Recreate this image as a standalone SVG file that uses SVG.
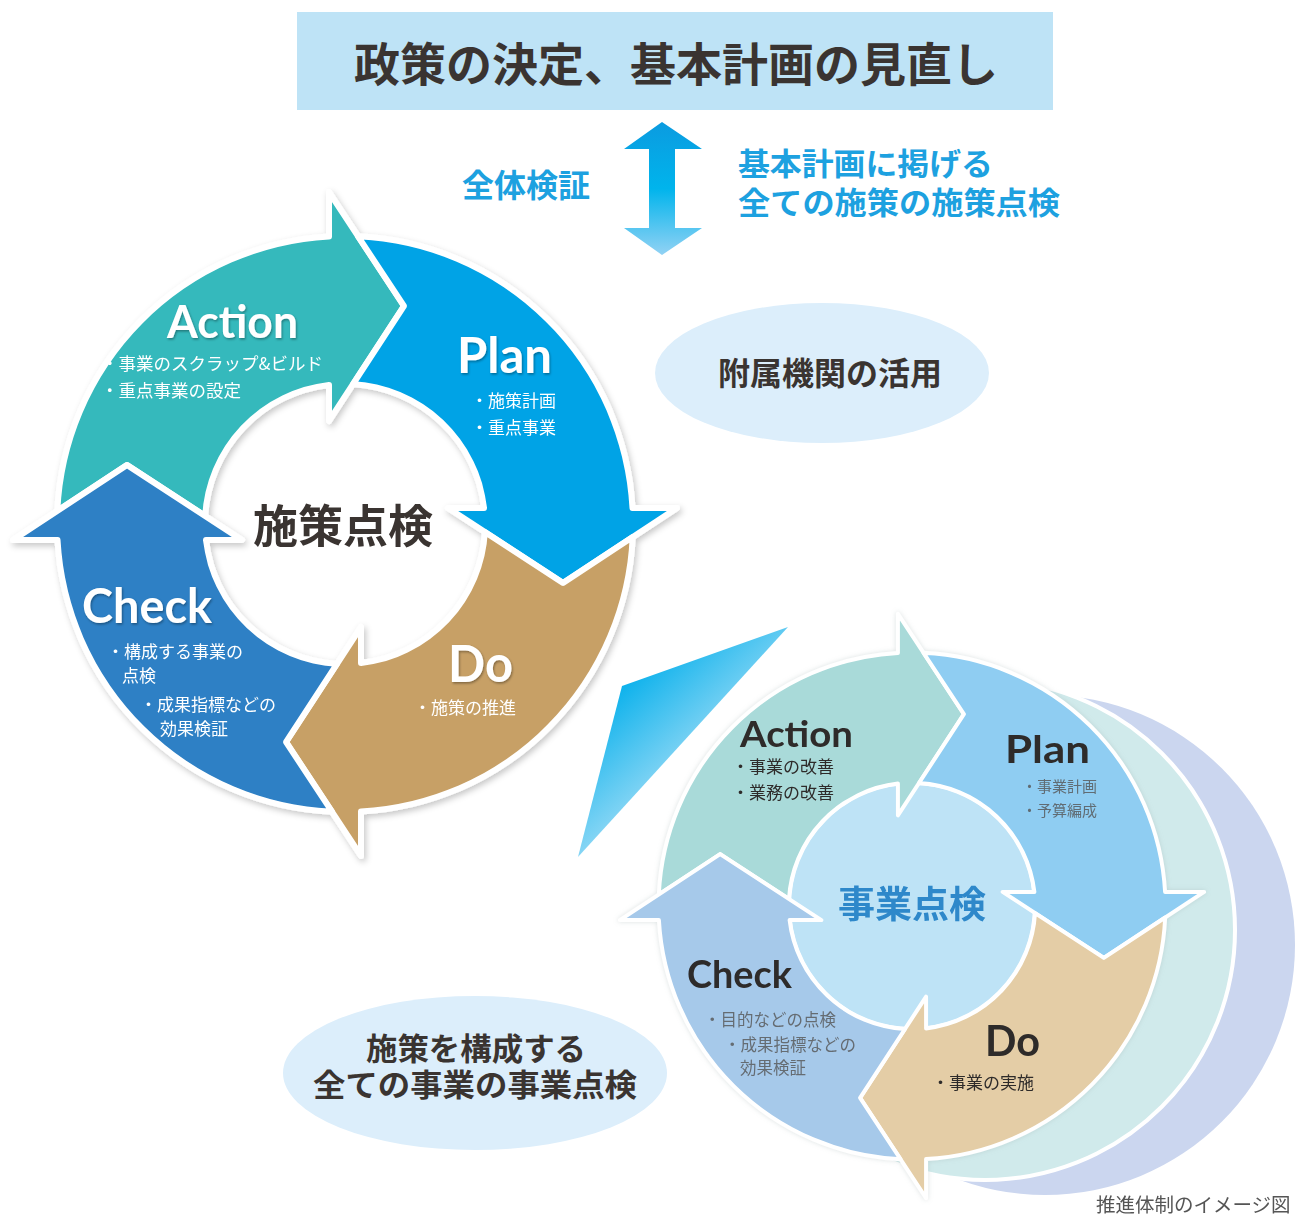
<svg xmlns="http://www.w3.org/2000/svg" xmlns:xlink="http://www.w3.org/1999/xlink" width="1303" height="1218" viewBox="0 0 1303 1218">
<style>
.jp{font-family:"Noto Sans CJK JP","Noto Sans",sans-serif;}
.en{font-family:Lato,"Noto Sans",sans-serif;font-weight:bold;}
.wl{fill:#ffffff;}
.big{font-weight:bold;fill:#3a3431;}
.blue{font-weight:bold;fill:#1da1e0;}
.dk{fill:#2e2b2a;}
.gr{fill:#555555;opacity:0.8;}
.seg{stroke:#ffffff;stroke-linejoin:round;}
</style>
<defs>
<path id="seg" d="M -287.7 -13.1 A 288 288 0 0 1 -16 -287.6 L -16 -332 L 59 -218 L -16 -103 L -16 -139.1 A 140 140 0 0 0 -139.8 -8 L -218 -59 Z"/>
<filter id="sh" x="-10%" y="-10%" width="125%" height="125%">
<feDropShadow dx="2" dy="3" stdDeviation="3" flood-color="#000" flood-opacity="0.22"/>
</filter>
<filter id="tsh" x="-10%" y="-20%" width="130%" height="150%">
<feDropShadow dx="1" dy="1.5" stdDeviation="1" flood-color="#000" flood-opacity="0.35"/>
</filter>
<filter id="glow" x="-10%" y="-10%" width="120%" height="120%">
<feDropShadow dx="0" dy="0" stdDeviation="2.5" flood-color="#9aa" flood-opacity="0.35"/>
</filter>
<linearGradient id="dbl" x1="0" y1="122" x2="0" y2="255" gradientUnits="userSpaceOnUse">
<stop offset="0" stop-color="#0b9be0"/>
<stop offset="0.5" stop-color="#00b4ec"/>
<stop offset="1" stop-color="#92d2f4"/>
</linearGradient>
<linearGradient id="wedge" x1="612" y1="680" x2="720" y2="800" gradientUnits="userSpaceOnUse">
<stop offset="0" stop-color="#00aeeb"/>
<stop offset="1" stop-color="#c6e8f9"/>
</linearGradient>
</defs>

<g id="header">
<rect x="297" y="12" width="756" height="98" fill="#bee3f6"/>
<text class="jp big" x="676" y="81" font-size="46" text-anchor="middle">政策の決定、基本計画の見直し</text>
</g>

<g id="double-arrow">
<polygon points="662,122 702,149 675,149 675,228 702,228 662,255 624,228 649,228 649,149 624,149" fill="url(#dbl)"/>
</g>
<g id="label-zentai">
<text class="jp blue" x="526" y="197" font-size="32" text-anchor="middle">全体検証</text>
</g>
<g id="label-kihon">
<text class="jp blue" x="738" y="175" font-size="30.5" textLength="255" lengthAdjust="spacingAndGlyphs">基本計画に掲げる</text>
<text class="jp blue" x="738" y="214" font-size="30.5" textLength="322" lengthAdjust="spacingAndGlyphs">全ての施策の施策点検</text>
</g>

<g id="fuzoku">
<ellipse cx="822" cy="373" rx="167" ry="70" fill="#dceefb"/>
<text class="jp big" x="830" y="385" font-size="32" text-anchor="middle">附属機関の活用</text>
</g>

<g id="jigyo-ellipse">
<ellipse cx="475" cy="1073" rx="192" ry="77" fill="#dceefb"/>
<text class="jp big" x="366" y="1060" font-size="30.5" textLength="220" lengthAdjust="spacingAndGlyphs">施策を構成する</text>
<text class="jp big" x="313" y="1096" font-size="30.5" textLength="324" lengthAdjust="spacingAndGlyphs">全ての事業の事業点検</text>
</g>

<g id="connectors">
<polygon id="wedge-connector" points="788,627 622,686 578,857" fill="url(#wedge)"/>
</g>

<g id="shisaku-cycle" filter="url(#sh)">
<use id="shisaku-action" xlink:href="#seg" href="#seg" class="seg" fill="#34b9bc" stroke-width="6" transform="translate(345,524)"/>
<use id="shisaku-plan" xlink:href="#seg" href="#seg" class="seg" fill="#03a3e6" stroke-width="6" transform="translate(345,524) rotate(90)"/>
<use id="shisaku-do" xlink:href="#seg" href="#seg" class="seg" fill="#c7a066" stroke-width="6" transform="translate(345,524) rotate(180)"/>
<use id="shisaku-check" xlink:href="#seg" href="#seg" class="seg" fill="#2d80c5" stroke-width="6" transform="translate(345,524) rotate(270)"/>
</g>
<g id="shisaku-labels">
<g filter="url(#tsh)">
<text class="en wl" x="167" y="338" font-size="45" textLength="131" lengthAdjust="spacingAndGlyphs">Action</text>
<text class="en wl" x="457" y="373" font-size="49" textLength="95" lengthAdjust="spacingAndGlyphs">Plan</text>
<text class="en wl" x="448" y="682" font-size="52" textLength="65" lengthAdjust="spacingAndGlyphs">Do</text>
<text class="en wl" x="82" y="623" font-size="47" textLength="130" lengthAdjust="spacingAndGlyphs">Check</text>
</g>
<text class="jp wl" x="101" y="370" font-size="17.5">・事業のスクラップ&amp;ビルド</text>
<text class="jp wl" x="101" y="397" font-size="17.5">・重点事業の設定</text>
<text class="jp wl" x="471" y="407" font-size="17">・施策計画</text>
<text class="jp wl" x="471" y="434" font-size="17">・重点事業</text>
<text class="jp wl" x="414" y="714" font-size="17">・施策の推進</text>
<text class="jp wl" x="107" y="658" font-size="17">・構成する事業の</text>
<text class="jp wl" x="122" y="682" font-size="17">点検</text>
<text class="jp wl" x="140" y="711" font-size="17">・成果指標などの</text>
<text class="jp wl" x="160" y="735" font-size="17">効果検証</text>
<text class="jp big" x="343" y="543" font-size="45" text-anchor="middle">施策点検</text>
</g>

<g id="jigyo-background">
<circle cx="1045" cy="945" r="250" fill="#cbd6ef"/>
<circle cx="985" cy="930" r="250" fill="#d0eaeb" stroke="#ffffff" stroke-width="4"/>
</g>
<g id="jigyo-cycle" filter="url(#glow)">
<circle cx="912" cy="906" r="123" fill="#bee3f6" stroke="#ffffff" stroke-width="4"/>
<use id="jigyo-action" xlink:href="#seg" href="#seg" class="seg" fill="#a9dad9" stroke-width="4.5" transform="translate(912,906) scale(0.88)"/>
<use id="jigyo-plan" xlink:href="#seg" href="#seg" class="seg" fill="#8fcdf2" stroke-width="4.5" transform="translate(912,906) rotate(90) scale(0.88)"/>
<use id="jigyo-do" xlink:href="#seg" href="#seg" class="seg" fill="#e4cda6" stroke-width="4.5" transform="translate(912,906) rotate(180) scale(0.88)"/>
<use id="jigyo-check" xlink:href="#seg" href="#seg" class="seg" fill="#a6c9ea" stroke-width="4.5" transform="translate(912,906) rotate(270) scale(0.88)"/>
</g>
<g id="jigyo-labels">
<text class="en dk" x="740" y="747" font-size="37" textLength="113" lengthAdjust="spacingAndGlyphs">Action</text>
<text class="jp dk" x="732" y="773" font-size="17">・事業の改善</text>
<text class="jp dk" x="732" y="799" font-size="17">・業務の改善</text>
<text class="en dk" x="1005" y="763" font-size="38" textLength="85" lengthAdjust="spacingAndGlyphs">Plan</text>
<text class="jp gr" x="1022" y="792" font-size="15">・事業計画</text>
<text class="jp gr" x="1022" y="816" font-size="15">・予算編成</text>
<text class="jp" x="912" y="918" font-size="37" font-weight="bold" fill="#2e88ca" text-anchor="middle">事業点検</text>
<text class="en dk" x="687" y="988" font-size="38" textLength="105" lengthAdjust="spacingAndGlyphs">Check</text>
<text class="jp gr" x="704" y="1026" font-size="16.5">・目的などの点検</text>
<text class="jp gr" x="724" y="1051" font-size="16.5">・成果指標などの</text>
<text class="jp gr" x="740" y="1074" font-size="16.5">効果検証</text>
<text class="en dk" x="985" y="1056" font-size="42" textLength="55" lengthAdjust="spacingAndGlyphs">Do</text>
<text class="jp dk" x="932" y="1089" font-size="17">・事業の実施</text>
</g>

<g id="caption">
<text class="jp" x="1096" y="1212" font-size="19.5" fill="#555">推進体制のイメージ図</text>
</g>
</svg>
